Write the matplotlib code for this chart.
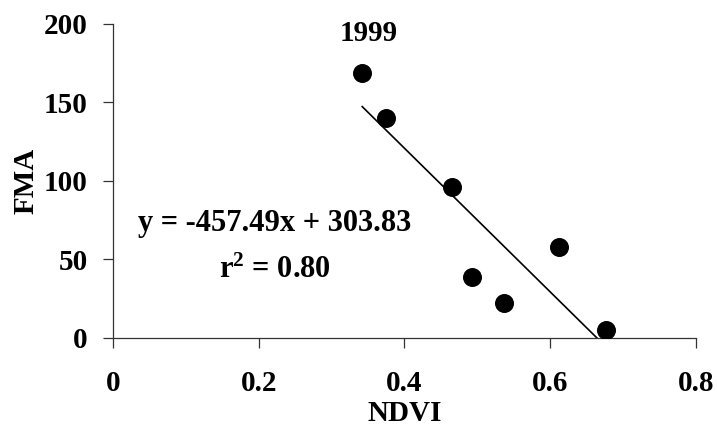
import matplotlib
matplotlib.use('Agg')
import matplotlib.pyplot as plt
import numpy as np

plt.rcParams['font.family'] = ['Liberation Serif', 'DejaVu Serif']
plt.rcParams['font.weight'] = 'bold'
plt.rcParams['mathtext.fontset'] = 'custom'
plt.rcParams['mathtext.rm'] = 'Liberation Serif:bold'
plt.rcParams['mathtext.it'] = 'Liberation Serif:bold'
plt.rcParams['mathtext.bf'] = 'Liberation Serif:bold'

ndvi = [0.342, 0.374, 0.465, 0.492, 0.536, 0.612, 0.676]
fma = [169, 140, 96, 39, 22, 58, 5]
slope = -457.49
intercept = 303.83

FS = 21

fig = plt.figure(figsize=(7.17, 4.30), dpi=100)
ax = fig.add_axes([0.1576, 0.2140, 0.8131, 0.7302])

ax.scatter(ndvi, fma, s=160, color='black', zorder=3)

# trend line from first point down to where it hits zero
xs = np.array([min(ndvi), -intercept / slope])
ax.plot(xs, slope * xs + intercept, color='black', lw=1.2)

ax.set_xlim(0, 0.8)
ax.set_ylim(0, 200)
ax.set_xticks([0, 0.2, 0.4, 0.6, 0.8])
ax.set_xticklabels(['0', '0.2', '0.4', '0.6', '0.8'])
ax.set_yticks([0, 50, 100, 150, 200])

for s in ['top', 'right']:
    ax.spines[s].set_visible(False)
for s in ['left', 'bottom']:
    ax.spines[s].set_linewidth(0.9)
    ax.spines[s].set_color('#333333')

ax.tick_params(axis='both', direction='out', length=7, width=0.9, color='#333333', labelsize=FS)
ax.tick_params(axis='x', pad=16)
ax.tick_params(axis='y', pad=11)
for lab in ax.get_xticklabels() + ax.get_yticklabels():
    lab.set_fontweight('bold')

ax.set_xlabel('NDVI', fontsize=FS, fontweight='bold', labelpad=2)
ax.set_ylabel('FMA', fontsize=FS, fontweight='bold', labelpad=3)

ax.text(0.351, 194, '1999', fontsize=FS, fontweight='bold', ha='center', va='center')
ax.text(0.222, 73, 'y = -457.49x + 303.83', fontsize=22, fontweight='bold', ha='center', va='center')
ax.text(0.222, 43, r'r$^2$ = 0.80', fontsize=22, fontweight='bold', ha='center', va='center')

plt.savefig('out.png', dpi=100)
